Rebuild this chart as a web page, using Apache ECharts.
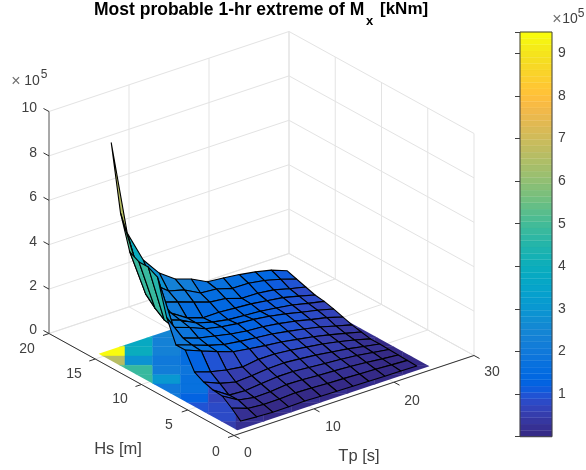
<!DOCTYPE html>
<html>
<head>
<meta charset="utf-8">
<style>
  html, body { margin: 0; padding: 0; background: #fff; }
  #chart { width: 586px; height: 470px; }
</style>
<script src="https://cdn.jsdelivr.net/npm/echarts@6/dist/echarts.min.js"></script>
</head>
<body>
<div id="chart"></div>
<script>
const tpNodes = [2, 4, 6, 8, 10, 12, 14, 16, 18, 20, 22, 24]
const hsNodes = [1, 2, 3, 4, 5, 6, 7, 8, 9, 10, 11, 12, 13, 14, 15]

// extreme Mx in 1e5 kNm, one row per Hs, one column per Tp
const mxHs1 = [0.18, 0.13, 0.10, 0.10, 0.12, 0.10, 0.08, 0.07, 0.05, 0.04, 0.03, 0.02]
const mxHs2 = [0.54, 0.28, 0.22, 0.22, 0.26, 0.24, 0.20, 0.18, 0.15, 0.12, 0.08, 0.04]
const mxHs3 = [0.85, 0.43, 0.30, 0.32, 0.40, 0.38, 0.33, 0.30, 0.26, 0.20, 0.12, 0.05]
const mxHs4 = [0.89, 0.42, 0.38, 0.45, 0.52, 0.52, 0.46, 0.40, 0.35, 0.28, 0.18, 0.07]
const mxHs5 = [1.02, 0.72, 0.54, 0.58, 0.66, 0.68, 0.62, 0.55, 0.45, 0.35, 0.22, 0.09]
const mxHs6 = [1.24, 1.01, 0.85, 0.75, 0.85, 0.85, 0.78, 0.68, 0.58, 0.44, 0.28, 0.09]
const mxHs7 = [2.00, 1.72, 1.45, 1.20, 1.10, 1.00, 0.92, 0.80, 0.68, 0.52, 0.35, 0.17]
const mxHs8 = [2.00, 1.76, 1.50, 1.30, 1.20, 1.12, 1.05, 0.93, 0.80, 0.65, 0.45, 0.26]
const mxHs9 = [3.00, 1.85, 1.60, 1.45, 1.30, 1.20, 1.15, 1.05, 0.92, 0.75, 0.60, 0.39]
const mxHs10 = [4.60, 2.10, 1.85, 1.55, 1.40, 1.30, 1.25, 1.15, 1.02, 0.85, 0.70, 0.52]
const mxHs11 = [4.82, 2.20, 1.95, 1.58, 1.38, 1.25, 1.20, 1.15, 1.05, 0.95, 0.78, 0.63]
const mxHs12 = [4.82, 2.50, 2.04, 1.58, 1.35, 1.35, 1.30, 1.25, 1.15, 1.05, 0.88, 0.69]
const mxHs13 = [5.05, 2.90, 2.30, 2.07, 1.82, 1.58, 1.50, 1.27, 1.26, 1.17, 0.98, 0.82]
const mxHs14 = [6.57, 3.98, 2.90, 2.33, 2.14, 1.76, 1.70, 1.49, 1.48, 1.36, 1.18, 0.95]
const mxHs15 = [9.50, 5.19, 3.74, 2.91, 2.40, 2.16, 1.80, 1.73, 1.64, 1.52, 1.36, 1.09]
const mx = [mxHs1, mxHs2, mxHs3, mxHs4, mxHs5, mxHs6, mxHs7, mxHs8, mxHs9, mxHs10, mxHs11, mxHs12, mxHs13, mxHs14, mxHs15]

const tpTicks = [0, 10, 20, 30]
const hsTicks = [0, 5, 10, 15, 20]
const zTicks = [0, 2, 4, 6, 8, 10]
const cbMin = 0
const cbMax = 9.5

// parula, 64 levels
const parula = [
  [0.2081, 0.1663, 0.5292], [0.2116, 0.1898, 0.5777], [0.2123, 0.2138, 0.6270], [0.2081, 0.2386, 0.6771],
  [0.1959, 0.2645, 0.7279], [0.1707, 0.2919, 0.7792], [0.1253, 0.3242, 0.8303], [0.0591, 0.3598, 0.8683],
  [0.0117, 0.3875, 0.8820], [0.0060, 0.4086, 0.8828], [0.0165, 0.4266, 0.8786], [0.0329, 0.4430, 0.8720],
  [0.0498, 0.4586, 0.8641], [0.0629, 0.4737, 0.8554], [0.0723, 0.4887, 0.8467], [0.0779, 0.5040, 0.8384],
  [0.0793, 0.5200, 0.8312], [0.0749, 0.5375, 0.8263], [0.0641, 0.5570, 0.8240], [0.0488, 0.5772, 0.8228],
  [0.0343, 0.5966, 0.8199], [0.0265, 0.6137, 0.8135], [0.0239, 0.6287, 0.8038], [0.0231, 0.6418, 0.7913],
  [0.0228, 0.6535, 0.7768], [0.0267, 0.6642, 0.7607], [0.0384, 0.6743, 0.7436], [0.0590, 0.6838, 0.7254],
  [0.0843, 0.6928, 0.7062], [0.1133, 0.7015, 0.6859], [0.1453, 0.7098, 0.6646], [0.1801, 0.7177, 0.6424],
  [0.2178, 0.7250, 0.6193], [0.2586, 0.7317, 0.5954], [0.3022, 0.7376, 0.5712], [0.3482, 0.7424, 0.5473],
  [0.3953, 0.7459, 0.5244], [0.4420, 0.7481, 0.5033], [0.4871, 0.7491, 0.4840], [0.5300, 0.7491, 0.4661],
  [0.5709, 0.7485, 0.4494], [0.6099, 0.7473, 0.4337], [0.6473, 0.7456, 0.4188], [0.6834, 0.7435, 0.4044],
  [0.7184, 0.7411, 0.3905], [0.7525, 0.7384, 0.3768], [0.7858, 0.7356, 0.3633], [0.8185, 0.7327, 0.3498],
  [0.8507, 0.7299, 0.3360], [0.8824, 0.7274, 0.3217], [0.9139, 0.7258, 0.3063], [0.9450, 0.7261, 0.2886],
  [0.9739, 0.7314, 0.2666], [0.9938, 0.7455, 0.2403], [0.9990, 0.7653, 0.2164], [0.9955, 0.7861, 0.1967],
  [0.9880, 0.8066, 0.1794], [0.9789, 0.8271, 0.1633], [0.9697, 0.8481, 0.1475], [0.9626, 0.8705, 0.1309],
  [0.9589, 0.8949, 0.1132], [0.9598, 0.9218, 0.0948], [0.9661, 0.9514, 0.0755], [0.9763, 0.9831, 0.0538]
]

const colorOf = (v) => {
  const k = Math.max(0, Math.min(63, Math.floor((v - cbMin) / (cbMax - cbMin) * 64)))
  const c = parula[k]
  return `rgb(${Math.round(c[0] * 255)},${Math.round(c[1] * 255)},${Math.round(c[2] * 255)})`
}

// MATLAB view of the 3-d box, orthographic, result in page units
const project = (tp, hs, z) => [
  234 + 8 * tp - 9.25 * hs,
  435.5 - 2.667 * tp - 5.1 * hs - 22.2 * z
]
// back from the floor plane to data
const unproject = (x, y) => {
  const hs = (435.5 - y - (x - 234) / 3) / 8.183
  return [(x - 234 + 9.25 * hs) / 8, hs]
}

const textColor = '#404040'
const gridColor = '#e3e3e3'
const axisColor = '#303030'
const fontFamily = '"Liberation Sans", Arial, sans-serif'
const font = `14px ${fontFamily}`
const nameFont = `16.5px ${fontFamily}`

const chart = echarts.init(document.getElementById('chart'), null, { renderer: 'canvas' })

const renderFrame = (params, api) => {
  const pt = (tp, hs, z) => api.coord(project(tp, hs, z))
  const line = (a, b, color, width) => ({
    type: 'line',
    shape: { x1: a[0], y1: a[1], x2: b[0], y2: b[1] },
    style: { stroke: color, lineWidth: width || 1 }
  })
  const text = (s, p, align, f, fill) => ({
    type: 'text',
    style: {
      text: s, x: p[0], y: p[1], fill: fill || textColor, font: f || font,
      textAlign: align || 'center', textVerticalAlign: 'middle'
    }
  })
  const children = []
  // grid on floor and back walls
  tpTicks.forEach(t => {
    children.push(line(pt(t, 0, 0), pt(t, 20, 0), gridColor))
    children.push(line(pt(t, 20, 0), pt(t, 20, 10), gridColor))
  })
  hsTicks.forEach(h => {
    children.push(line(pt(0, h, 0), pt(30, h, 0), gridColor))
    children.push(line(pt(30, h, 0), pt(30, h, 10), gridColor))
  })
  zTicks.forEach(z => {
    children.push(line(pt(0, 20, z), pt(30, 20, z), gridColor))
    children.push(line(pt(30, 20, z), pt(30, 0, z), gridColor))
  })
  // axis lines
  children.push(line(pt(0, 0, 0), pt(30, 0, 0), axisColor))
  children.push(line(pt(0, 0, 0), pt(0, 20, 0), axisColor))
  children.push(line(pt(0, 20, 0), pt(0, 20, 10), '#606060'))
  // ticks and labels
  tpTicks.forEach(t => {
    const p = pt(t, 0, 0)
    children.push(line(p, [p[0] + 5.5, p[1] + 3], axisColor))
  })
  hsTicks.forEach(h => {
    const p = pt(0, h, 0)
    children.push(line(p, [p[0] - 6, p[1] + 2], axisColor))
  })
  zTicks.forEach(z => {
    const p = pt(0, 20, z)
    children.push(line(p, [p[0] - 5.5, p[1] - 3], axisColor))
    children.push(text(String(z), [37, p[1] - 3], 'right'))
  })
  const tpLabelAt = { 0: [248, 453], 10: [333, 427], 20: [412, 401], 30: [492, 372] }
  tpTicks.forEach(t => children.push(text(String(t), api.coord(tpLabelAt[t]))))
  const hsLabelAt = { 0: [216, 452], 5: [169, 425], 10: [120, 399], 15: [74, 374], 20: [27, 349] }
  hsTicks.forEach(h => children.push(text(String(h), api.coord(hsLabelAt[h]))))
  // axis names and exponents
  children.push(text('Hs [m]', api.coord([118, 449]), 'center', nameFont))
  children.push(text('Tp [s]', api.coord([359, 456]), 'center', nameFont))
  children.push(text('×', api.coord([16, 82]), 'center', `16px ${fontFamily}`, '#707070'))
  children.push(text('10', api.coord([32, 81])))
  children.push(text('5', api.coord([44, 75]), 'center', `12px ${fontFamily}`))
  children.push(text('×', api.coord([557, 20]), 'center', `16px ${fontFamily}`, '#707070'))
  children.push(text('10', api.coord([570, 19])))
  children.push(text('5', api.coord([581, 14]), 'center', `12px ${fontFamily}`))
  return { type: 'group', children }
}

// floor map is coarse in the original: screen-aligned blocks, nearest node colour
const blockW = 27.75
const blockH = 9.37
const blockCols = [97.2, 124.95, 152.7, 180.45, 208.2, 235.95, 263.7, 291.45, 319.2, 346.95, 374.7, 402.45]
const blockRows = [290.4, 299.8, 309.1, 318.5, 327.9, 337.2, 346.6, 356, 365.3, 374.7, 384.1, 393.4, 402.8, 412.2, 421.5]
const floorCells = []
blockCols.forEach(x => blockRows.forEach(y => floorCells.push([x, y])))

const renderFloor = (params, api) => {
  const x = api.value(0)
  const y = api.value(1)
  const [t, h] = unproject(x + blockW / 2, y + blockH / 2 + 1)
  const i = Math.max(0, Math.min(tpNodes.length - 1, Math.round((t - tpNodes[0]) / 2)))
  const j = Math.max(0, Math.min(hsNodes.length - 1, Math.round(h - hsNodes[0])))
  const a = api.coord([x, y])
  const color = colorOf(mx[j][i])
  const edge = [[1, 0.5], [25, 0.5], [25, 15.5], [1, 15.5]].map(c => api.coord(project(c[0], c[1], 0)))
  return {
    type: 'rect',
    shape: { x: a[0], y: a[1], width: blockW, height: blockH },
    style: { fill: color, stroke: color, lineWidth: 0.4 },
    clipPath: { type: 'polygon', shape: { points: edge } }
  }
}

// faces back to front, flat colour from the lower corner
const faces = []
for (let i = tpNodes.length - 2; i >= 0; i--) {
  for (let j = hsNodes.length - 2; j >= 0; j--) {
    faces.push([i, j])
  }
}

const renderFace = (params, api) => {
  const i = api.value(0)
  const j = api.value(1)
  const corners = [[i, j], [i + 1, j], [i + 1, j + 1], [i, j + 1]]
  const points = corners.map(c => api.coord(project(tpNodes[c[0]], hsNodes[c[1]], mx[c[1]][c[0]])))
  return {
    type: 'polygon',
    shape: { points },
    style: { fill: colorOf(mx[j][i]), stroke: '#000', lineWidth: 1.1, lineJoin: 'round' }
  }
}

// colorbar bands
const cbLevels = parula.map((c, k) => k)
const renderBand = (params, api) => {
  const k = api.value(0)
  const lo = cbMin + (cbMax - cbMin) * k / 64
  const hi = cbMin + (cbMax - cbMin) * (k + 1) / 64
  const a = api.coord([0, hi])
  const b = api.coord([1, lo])
  const color = colorOf(lo + 0.001)
  return {
    type: 'rect',
    shape: { x: a[0], y: a[1], width: b[0] - a[0], height: b[1] - a[1] },
    style: { fill: color, stroke: color, lineWidth: 0.3 }
  }
}
const renderBox = (params, api) => {
  const a = api.coord([0, cbMax])
  const b = api.coord([1, cbMin])
  return {
    type: 'rect',
    shape: { x: a[0], y: a[1], width: b[0] - a[0], height: b[1] - a[1] },
    style: { fill: 'none', stroke: '#404040', lineWidth: 1 }
  }
}

const option = {
  animation: false,
  backgroundColor: '#fff',
  grid: [
    { left: 0, top: 0, width: 586, height: 470, show: false },
    { left: 520, top: 32, width: 32, height: 404.7, show: false }
  ],
  xAxis: [
    { type: 'value', gridIndex: 0, min: 0, max: 586, show: false },
    { type: 'value', gridIndex: 1, min: 0, max: 1, show: false }
  ],
  yAxis: [
    { type: 'value', gridIndex: 0, min: 0, max: 470, inverse: true, show: false },
    {
      type: 'value', gridIndex: 1, min: 0, max: cbMax, interval: 1, position: 'right', z: 10,
      axisLine: { show: false },
      axisTick: { show: true, inside: true, length: 5, lineStyle: { color: '#404040' } },
      axisLabel: {
        show: true, inside: false, margin: 6, color: textColor, fontSize: 14, fontFamily,
        formatter: v => (Number.isInteger(v) && v > 0 ? String(v) : '')
      },
      splitLine: { show: false }
    }
  ],
  graphic: [
    {
      type: 'text', left: 94, top: 1,
      style: { text: 'Most probable 1-hr extreme of M', fill: '#000', font: `bold 17.5px ${fontFamily}` }
    },
    {
      type: 'text', left: 366, top: 15,
      style: { text: 'x', fill: '#000', font: `bold 13px ${fontFamily}` }
    },
    {
      type: 'text', left: 380, top: 1,
      style: { text: '[kNm]', fill: '#000', font: `bold 17px ${fontFamily}` }
    }
  ],
  series: [
    { type: 'custom', name: 'frame', xAxisIndex: 0, yAxisIndex: 0, data: [[0, 0]], renderItem: renderFrame, silent: true, clip: false, z: 1 },
    { type: 'custom', name: 'floor', xAxisIndex: 0, yAxisIndex: 0, data: floorCells, renderItem: renderFloor, silent: true, clip: false, z: 2 },
    { type: 'custom', name: 'surface', xAxisIndex: 0, yAxisIndex: 0, data: faces, renderItem: renderFace, silent: true, clip: false, z: 3 },
    { type: 'custom', name: 'colorbar', xAxisIndex: 1, yAxisIndex: 1, data: cbLevels.map(k => [k]), renderItem: renderBand, silent: true, clip: false, z: 4, encode: { x: -1, y: -1 } },
    { type: 'custom', name: 'colorbar box', xAxisIndex: 1, yAxisIndex: 1, data: [[0]], renderItem: renderBox, silent: true, clip: false, z: 5, encode: { x: -1, y: -1 } }
  ]
}

chart.setOption(option)
</script>
</body>
</html>
